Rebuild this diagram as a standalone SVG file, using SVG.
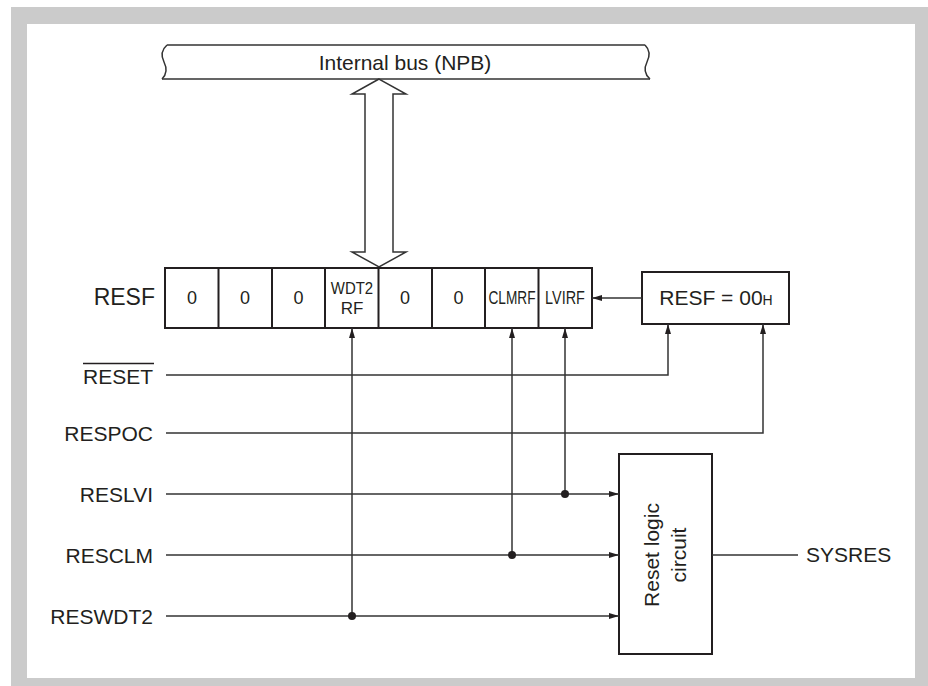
<svg xmlns="http://www.w3.org/2000/svg" width="928" height="686" viewBox="0 0 928 686">
<defs>
<style>
.t{font-family:"Liberation Sans",Arial,sans-serif;fill:#231f20}
.ln{stroke:#333;stroke-width:1.5;fill:none}
.box{stroke:#231f20;stroke-width:2;fill:#fff}
.cell{stroke:#231f20;stroke-width:2;fill:none}
</style>
<marker id="ah" viewBox="0 0 10 6" refX="10" refY="3" markerWidth="10" markerHeight="6" markerUnits="userSpaceOnUse" orient="auto">
<path d="M0,0 L10,3 L0,6 Z" fill="#231f20"/>
</marker>
</defs>
<rect x="0" y="0" width="928" height="686" fill="#fff"/>
<path d="M11,7 H928 V686 H11 Z M27,24 V678 H915 V24 Z" fill="#cbcbcb" fill-rule="evenodd"/>

<g id="bus">
<path d="M167,45 H645 M162,79 H650" class="ln"/>
<path d="M167,45 Q159,52 164,62 Q169,72 162,79" class="ln"/>
<path d="M645,45 Q652,52 647,62 Q642,72 650,79" class="ln"/>
<text x="405" y="70" class="t" font-size="21" text-anchor="middle">Internal bus (NPB)</text>
</g>

<g id="bus-arrow">
<polygon points="379,79 352,94 365,94 365,252 352,252 379,267 406,252 393,252 393,94 406,94" fill="#fff" stroke="#333" stroke-width="1.5"/>
</g>

<g id="resf">
<text x="155" y="305" class="t" font-size="23" text-anchor="end">RESF</text>
<rect x="165" y="268" width="427" height="60" class="box"/>
<path d="M218.5,268 V328 M272,268 V328 M325,268 V328 M378.5,268 V328 M432,268 V328 M485,268 V328 M538.5,268 V328" class="cell"/>
<g class="t" font-size="18" text-anchor="middle">
<text x="192" y="304">0</text>
<text x="245" y="304">0</text>
<text x="298.5" y="304">0</text>
<text x="405" y="304">0</text>
<text x="458.5" y="304">0</text>
<text transform="translate(352,294) scale(0.88,1)" font-size="17">WDT2</text>
<text x="352" y="314" font-size="17">RF</text>
<text transform="translate(512,304) scale(0.72,1)" font-size="19">CLMRF</text>
<text transform="translate(565,304) scale(0.76,1)" font-size="19">LVIRF</text>
</g>
</g>

<g id="resf-clear">
<rect x="642" y="272" width="147" height="52" class="box" stroke-width="1.8"/>
<text x="716" y="305" class="t" font-size="21" text-anchor="middle">RESF = 00<tspan font-size="14">H</tspan></text>
</g>

<g id="reset-logic">
<rect x="619" y="454" width="93" height="200" class="box"/>
<g class="t" font-size="21" text-anchor="middle" transform="translate(665,555) rotate(-90)">
<text x="0" y="-6">Reset logic</text>
<text x="0" y="21">circuit</text>
</g>
</g>

<g id="labels" class="t" font-size="21" text-anchor="end">
<text x="153" y="384">RESET</text>
<text x="153" y="441">RESPOC</text>
<text x="153" y="502">RESLVI</text>
<text x="153" y="563">RESCLM</text>
<text x="153" y="624">RESWDT2</text>
<text x="806" y="562" text-anchor="start">SYSRES</text>
</g>
<path d="M83,363.5 H154" stroke="#231f20" stroke-width="1.5"/>

<g id="connectors">
<path d="M642,298 H592" class="ln" marker-end="url(#ah)"/>
<path d="M166,375 H668 V324" class="ln" marker-end="url(#ah)"/>
<path d="M166,433 H763 V324" class="ln" marker-end="url(#ah)"/>
<path d="M166,494 H619" class="ln" marker-end="url(#ah)"/>
<path d="M166,555 H619" class="ln" marker-end="url(#ah)"/>
<path d="M166,616 H619" class="ln" marker-end="url(#ah)"/>
<path d="M565,494 V328" class="ln" marker-end="url(#ah)"/>
<path d="M512,555 V328" class="ln" marker-end="url(#ah)"/>
<path d="M352,616 V328" class="ln" marker-end="url(#ah)"/>
<path d="M712,555 H798" class="ln"/>
<circle cx="565" cy="494" r="4" fill="#231f20"/>
<circle cx="512" cy="555" r="4" fill="#231f20"/>
<circle cx="352" cy="616" r="4" fill="#231f20"/>
</g>
</svg>
